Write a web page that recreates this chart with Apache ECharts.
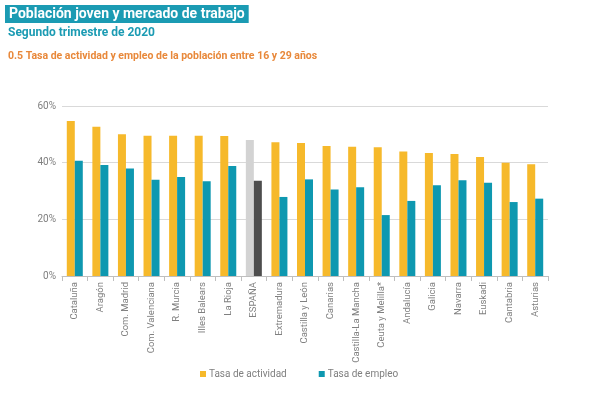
<!DOCTYPE html>
<html><head><meta charset="utf-8">
<script src="https://cdn.jsdelivr.net/npm/echarts@6/dist/echarts.min.js"></script>
<style>html,body{margin:0;padding:0;background:#fff}#c{width:600px;height:400px}</style>
</head><body><div id="c"></div>
<script>
const categories = ['Cataluña','Aragón','Com. Madrid','Com. Valenciana','R. Murcia','Illes Balears','La Rioja','ESPAÑA','Extremadura','Castilla y León','Canarias','Castilla-La Mancha','Ceuta y Melilla*','Andalucía','Galicia','Navarra','Euskadi','Cantabria','Asturias'];
const actividad = [54.7,52.7,50.0,49.5,49.5,49.5,49.4,48.0,47.2,46.9,45.9,45.6,45.4,43.9,43.4,43.1,42.0,40.0,39.4];
const empleo = [40.7,39.2,37.9,34.0,34.9,33.4,38.8,33.6,27.9,34.1,30.5,31.3,21.5,26.5,32.0,33.8,32.9,26.1,27.3];
const yTicks = [0,20,40,60];

const highlight = 'ESPAÑA';
const font = 'Roboto';
const mk = (arr, hcol) => arr.map((v,i)=> categories[i]===highlight ? {value:v, itemStyle:{color:hcol}} : v);

const chart = echarts.init(document.getElementById('c'));
chart.setOption({
  animation:false,
  textStyle:{fontFamily:font},
  title:[
    {text:'Población joven y mercado de trabajo', left:5, top:5, backgroundColor:'#1b9bb3', padding:[2,4,2,4],
     textStyle:{color:'#fff', fontSize:14, fontWeight:'bold', fontFamily:font}},
    {text:'Segundo trimestre de 2020', left:8, top:27, padding:0,
     textStyle:{color:'#1b9bb3', fontSize:12, fontWeight:'bold', fontFamily:font}},
    {text:'0.5 Tasa de actividad y empleo de la población entre 16 y 29 años', left:8, top:51, padding:0,
     textStyle:{color:'#e8883a', fontSize:10.5, fontWeight:'bold', fontFamily:font}}
  ],
  legend:{top:364, left:195, itemWidth:6, itemHeight:6, itemGap:32, icon:'rect',
    textStyle:{color:'#7f7f7f', fontSize:10, fontFamily:font, padding:[0,0,0,-2]},
    data:['Tasa de actividad','Tasa de empleo']},
  grid:{left:62, right:52, top:106, bottom:124},
  xAxis:{type:'category', data:categories,
    axisLine:{lineStyle:{color:'#bfbfbf'}}, axisTick:{show:true, lineStyle:{color:'#bfbfbf'}},
    axisLabel:{rotate:90, interval:0, color:'#808080', fontSize:9.5, margin:6}},
  yAxis:{type:'value', min:yTicks[0], max:yTicks[yTicks.length-1], interval:20,
    axisLabel:{formatter:v=>v+'%', color:'#7f7f7f', fontSize:10, margin:6},
    splitLine:{lineStyle:{color:'#d9d9d9'}}, axisLine:{show:false}, axisTick:{show:false}},
  series:[
    {name:'Tasa de actividad', type:'bar', data:mk(actividad,'#d3d3d3'), itemStyle:{color:'#f6b92b'}, barWidth:8, barGap:'0%'},
    {name:'Tasa de empleo', type:'bar', data:mk(empleo,'#4d4d4d'), itemStyle:{color:'#0e98b0'}, barWidth:8, barGap:'0%'}
  ]
});
</script></body></html>
